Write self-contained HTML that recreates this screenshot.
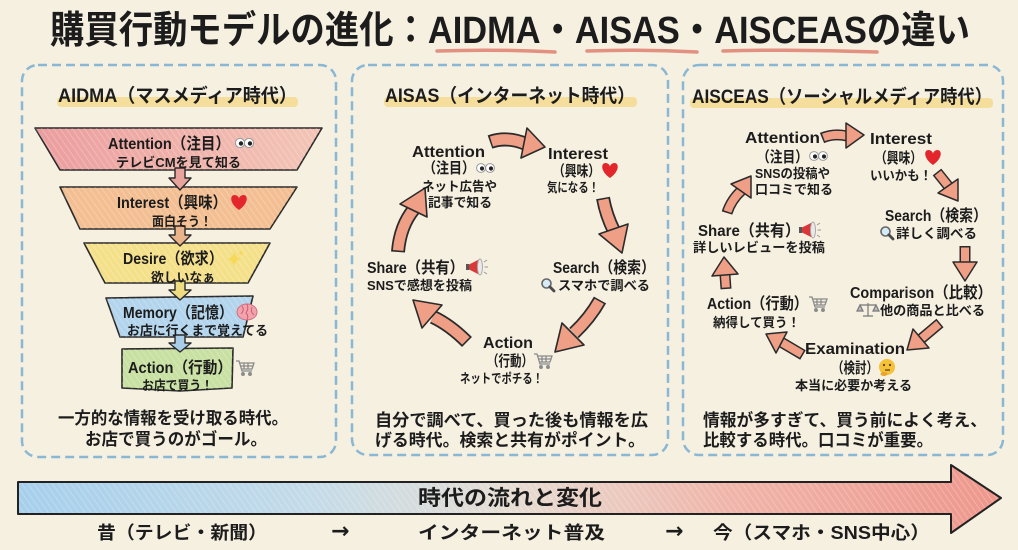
<!DOCTYPE html>
<html><head><meta charset="utf-8">
<style>
html,body{margin:0;padding:0;background:#f6f0e1;}
svg{display:block}
text{font-family:"Liberation Sans","Noto Sans CJK JP",sans-serif;font-weight:bold;fill:#1c1c1c;}
text.arr{font-family:"DejaVu Sans",sans-serif;}
</style></head><body>
<svg width="1018" height="550" viewBox="0 0 1018 550" xmlns="http://www.w3.org/2000/svg">
<defs>
<pattern id="hatch" width="5" height="5" patternUnits="userSpaceOnUse" patternTransform="rotate(-35)">
<line x1="0" y1="0" x2="0" y2="5" stroke="#ffffff" stroke-opacity=".28" stroke-width="1.6"/>
</pattern>
<linearGradient id="gAtt" x1="0" x2="1" y1="0" y2="0"><stop offset="0" stop-color="#eb9d9e"/><stop offset="1" stop-color="#f3c5b6"/></linearGradient>
<linearGradient id="gTime" x1="0" x2="1" y1="0" y2="0">
<stop offset="0" stop-color="#a6cfec"/><stop offset="0.3" stop-color="#c4dbe8"/><stop offset="0.5" stop-color="#e6ddd3"/><stop offset="0.72" stop-color="#f0b5aa"/><stop offset="1" stop-color="#ee978c"/>
</linearGradient>
</defs>

<rect width="1018" height="550" fill="#f6f0e1"/>

<!-- Title -->
<text x="50" y="43" font-size="38" font-weight="900" textLength="920" lengthAdjust="spacingAndGlyphs">購買行動モデルの進化：AIDMA・AISAS・AISCEASの違い</text>
<g stroke="#e2907f" stroke-width="3.5" stroke-linecap="round" fill="none">
<path d="M437,51 Q496,49 555,52"/>
<path d="M587,51 Q642,49 697,52"/>
<path d="M723,51 Q800,49 877,52"/>
</g>

<!-- Panels -->
<g fill="none" stroke="#8ab8d4" stroke-width="2.5" stroke-dasharray="9 5">
<rect x="22" y="65" width="314" height="392" rx="16"/>
<rect x="352" y="65" width="316" height="390" rx="16"/>
<rect x="683" y="65" width="320" height="390" rx="16"/>
</g>

<!-- Headers -->
<rect x="57" y="97" width="241" height="10" rx="4" fill="#f4d98f" opacity=".85"/>
<rect x="384" y="97" width="253" height="10" rx="4" fill="#f4d98f" opacity=".85"/>
<rect x="690" y="98" width="303" height="10" rx="4" fill="#f4d98f" opacity=".85"/>
<text x="58" y="102" font-size="19" textLength="239" lengthAdjust="spacingAndGlyphs">AIDMA（マスメディア時代）</text>
<text x="385" y="102" font-size="19" textLength="250" lengthAdjust="spacingAndGlyphs">AISAS（インターネット時代）</text>
<text x="692" y="103" font-size="19" textLength="300" lengthAdjust="spacingAndGlyphs">AISCEAS（ソーシャルメディア時代）</text>

<!-- Left funnel -->
<g stroke="#2a2a2a" stroke-width="1.6" stroke-linejoin="round">
<polygon points="35,128 322,128 297,170 60,170" fill="url(#gAtt)"/>
<polygon points="60,187 297,187 270,229 80,229" fill="#f3bf92"/>
<polygon points="84,243 270,243 248,283 105,283" fill="#f5e08a"/>
<polygon points="106,298 253,296 243,337 120,337" fill="#b2d4ec"/>
<polygon points="122,349 233,348 232,388 180,391 122,388" fill="#c8e0a2"/>
</g>
<g fill="url(#hatch)">
<polygon points="35,128 322,128 297,170 60,170"/>
<polygon points="60,187 297,187 270,229 80,229"/>
<polygon points="84,243 270,243 248,283 105,283"/>
<polygon points="106,298 253,296 243,337 120,337"/>
<polygon points="122,349 233,348 232,388 180,391 122,388"/>
</g>
<!-- funnel down arrows -->
<g stroke="#2a2a2a" stroke-width="1.4" stroke-linejoin="round">
<path d="M175,168 H185 V178 H191 L180,190 L169,178 H175 Z" fill="#e8a49c"/>
<path d="M175,226 H185 V235 H191 L180,246 L169,235 H175 Z" fill="#eab48a"/>
<path d="M175,281 H185 V290 H191 L180,300 L169,290 H175 Z" fill="#eedd80"/>
<path d="M175,335 H185 V343 H191 L180,352 L169,343 H175 Z" fill="#a9cde6"/>
</g>

<text x="108" y="149" font-size="16" textLength="122" lengthAdjust="spacingAndGlyphs">Attention（注目）</text>
<g transform="translate(235,143)"><circle cx="5" r="4.6" fill="#fff" stroke="#999"/><circle cx="14" r="4.6" fill="#fff" stroke="#999"/><circle cx="6" cy=".5" r="2.2" fill="#222"/><circle cx="15" cy=".5" r="2.2" fill="#222"/></g>
<text x="116" y="167" font-size="13" textLength="125" lengthAdjust="spacingAndGlyphs">テレビCMを見て知る</text>

<text x="117" y="208" font-size="16" textLength="110" lengthAdjust="spacingAndGlyphs">Interest（興味）</text>
<path transform="translate(239,203)" d="M0,7 C-10,0 -9,-8 -4.5,-8 C-2,-8 0,-6 0,-4 C0,-6 2,-8 4.5,-8 C9,-8 10,0 0,7Z" fill="#e3262b"/>
<text x="152" y="226" font-size="13" textLength="60" lengthAdjust="spacingAndGlyphs">面白そう！</text>

<text x="123" y="264" font-size="16" textLength="100" lengthAdjust="spacingAndGlyphs">Desire（欲求）</text>
<g transform="translate(234,259)" fill="#f7d95a"><path d="M0,-8 Q1,-1 7,0 Q1,1 0,8 Q-1,1 -7,0 Q-1,-1 0,-8Z"/><path d="M7,-9 Q7.5,-6.5 10,-6 Q7.5,-5.5 7,-3 Q6.5,-5.5 4,-6 Q6.5,-6.5 7,-9Z"/></g>
<text x="151" y="282" font-size="13" textLength="64" lengthAdjust="spacingAndGlyphs">欲しいなぁ</text>

<text x="123" y="318" font-size="16" textLength="110" lengthAdjust="spacingAndGlyphs">Memory（記憶）</text>
<g transform="translate(247,312)"><ellipse rx="10" ry="8" fill="#f2a3ad" stroke="#d0707f"/><path d="M-5,-6 Q-2,-2 -6,2 M0,-8 Q2,-3 -1,1 Q2,4 0,8 M5,-5 Q3,0 7,3" stroke="#c86070" fill="none" stroke-width="1"/></g>
<text x="127" y="335" font-size="13" textLength="141" lengthAdjust="spacingAndGlyphs">お店に行くまで覚えてる</text>

<text x="128" y="373" font-size="16" textLength="104" lengthAdjust="spacingAndGlyphs">Action（行動）</text>
<g transform="translate(245,367)" stroke="#8a8a8a" fill="none" stroke-width="1.3"><path d="M-9,-6 H-6 L-3,4 H7"/><path d="M-5.5,-4 H9 L7,2 H-3.5"/><path d="M-1,-4 V2 M3,-4 V2 M-4.5,-1 H8"/><circle cx="-2" cy="7" r="1.3" fill="#8a8a8a"/><circle cx="5" cy="7" r="1.3" fill="#8a8a8a"/></g>
<text x="142" y="390" font-size="13" textLength="71" lengthAdjust="spacingAndGlyphs">お店で買う！</text>

<text x="58" y="424" font-size="17" textLength="230" lengthAdjust="spacingAndGlyphs">一方的な情報を受け取る時代。</text>
<text x="85" y="445" font-size="17" textLength="182" lengthAdjust="spacingAndGlyphs">お店で買うのがゴール。</text>

<!-- Middle cycle arrows -->
<g fill="none" stroke-linecap="butt">
<g stroke="#2b2b2b" stroke-width="14">
<path d="M490,142 Q507,136 526,144"/>
<path d="M603,198 Q606,215 614,231"/>
<path d="M600,300 Q590,318 574,333"/>
<path d="M467,342 Q450,325 433,317"/>
<path d="M398,252 Q400,226 414,209"/>
</g>
<g stroke="#ee9f85" stroke-width="10.5" stroke-dasharray="0 1.5 1000 0">
<path d="M490,142 Q507,136 526,144"/>
<path d="M603,198 Q606,215 614,231"/>
<path d="M600,300 Q590,318 574,333"/>
<path d="M467,342 Q450,325 433,317"/>
<path d="M398,252 Q400,226 414,209"/>
</g>
</g>
<g fill="#ee9f85" stroke="#2b2b2b" stroke-width="1.6" stroke-linejoin="round">
<polygon points="527,128 545,147 521,158"/>
<polygon points="599,234 628,224 622,253"/>
<polygon points="562,323 584,345 555,352"/>
<polygon points="442,305 422,328 413,300"/>
<polygon points="427,217 400,204 425,188"/>
</g>

<text x="412" y="157" font-size="16" textLength="73" lengthAdjust="spacingAndGlyphs">Attention</text>
<text x="423" y="173" font-size="15" textLength="52" lengthAdjust="spacingAndGlyphs">（注目）</text>
<g transform="translate(476,168)"><circle cx="5" r="4.4" fill="#fff" stroke="#999"/><circle cx="14" r="4.4" fill="#fff" stroke="#999"/><circle cx="6" cy=".5" r="2.1" fill="#222"/><circle cx="15" cy=".5" r="2.1" fill="#222"/></g>
<text x="422" y="191" font-size="13" textLength="75" lengthAdjust="spacingAndGlyphs">ネット広告や</text>
<text x="428" y="207" font-size="13" textLength="64" lengthAdjust="spacingAndGlyphs">記事で知る</text>

<text x="548" y="159" font-size="16" textLength="60" lengthAdjust="spacingAndGlyphs">Interest</text>
<text x="553" y="176" font-size="15" textLength="47" lengthAdjust="spacingAndGlyphs">（興味）</text>
<path transform="translate(610,171)" d="M0,7 C-10,0 -9,-8 -4.5,-8 C-2,-8 0,-6 0,-4 C0,-6 2,-8 4.5,-8 C9,-8 10,0 0,7Z" fill="#e3262b"/>
<text x="547" y="192" font-size="13" textLength="52" lengthAdjust="spacingAndGlyphs">気になる！</text>

<text x="367" y="273" font-size="16" textLength="97" lengthAdjust="spacingAndGlyphs">Share（共有）</text>
<g transform="translate(477,267)"><path d="M-9,-2 L3,-8 L3,8 L-9,2Z" fill="#d83838"/><ellipse cx="3" cy="0" rx="2.5" ry="8" fill="#e9e9e9" stroke="#aaa"/><rect x="-11" y="-3" width="3" height="6" fill="#555"/><path d="M7,-5 L10,-7 M7.5,0 H11 M7,5 L10,7" stroke="#999" stroke-width="1"/></g>
<text x="367" y="290" font-size="13" textLength="105" lengthAdjust="spacingAndGlyphs">SNSで感想を投稿</text>

<text x="553" y="273" font-size="16" textLength="102" lengthAdjust="spacingAndGlyphs">Search（検索）</text>
<g transform="translate(548,285)"><circle cx="-1.5" cy="-1.5" r="4.5" fill="#d5ecf8" stroke="#666" stroke-width="1.6"/><path d="M1.8,1.8 L6,6" stroke="#4a4a4a" stroke-width="2.8" stroke-linecap="round"/></g>
<text x="558" y="290" font-size="13" textLength="92" lengthAdjust="spacingAndGlyphs">スマホで調べる</text>

<text x="483" y="348" font-size="16" textLength="50" lengthAdjust="spacingAndGlyphs">Action</text>
<text x="487" y="366" font-size="15" textLength="46" lengthAdjust="spacingAndGlyphs">（行動）</text>
<g transform="translate(543,360)" stroke="#8a8a8a" fill="none" stroke-width="1.3"><path d="M-9,-6 H-6 L-3,4 H7"/><path d="M-5.5,-4 H9 L7,2 H-3.5"/><path d="M-1,-4 V2 M3,-4 V2 M-4.5,-1 H8"/><circle cx="-2" cy="7" r="1.3" fill="#8a8a8a"/><circle cx="5" cy="7" r="1.3" fill="#8a8a8a"/></g>
<text x="460" y="383" font-size="13" textLength="83" lengthAdjust="spacingAndGlyphs">ネットでポチる！</text>

<text x="375" y="426" font-size="17" textLength="273" lengthAdjust="spacingAndGlyphs">自分で調べて、買った後も情報を広</text>
<text x="375" y="446" font-size="17" textLength="270" lengthAdjust="spacingAndGlyphs">げる時代。検索と共有がポイント。</text>

<!-- Right cycle arrows -->
<g fill="none">
<g stroke="#2b2b2b" stroke-width="11">
<path d="M822,138 Q834,133 847,136"/>
<path d="M937,172 L949,187"/>
<path d="M965,246 L965,263"/>
<path d="M940,323 L921,339"/>
<path d="M803,355 L781,342"/>
<path d="M726,289 L725,275"/>
<path d="M727,213 Q731,200 742,190"/>
</g>
<g stroke="#ee9f85" stroke-width="8" stroke-dasharray="0 1.5 1000 0">
<path d="M822,138 Q834,133 847,136"/>
<path d="M937,172 L949,187"/>
<path d="M965,246 L965,263"/>
<path d="M940,323 L921,339"/>
<path d="M803,355 L781,342"/>
<path d="M726,289 L725,275"/>
<path d="M727,213 Q731,200 742,190"/>
</g>
</g>
<g fill="#ee9f85" stroke="#2b2b2b" stroke-width="1.5" stroke-linejoin="round">
<polygon points="846,123 864,135 846,148"/>
<polygon points="958,179 938,193 958,201"/>
<polygon points="953,262 977,262 965,281"/>
<polygon points="913,329 929,348 907,350"/>
<polygon points="787,332 776,353 766,334"/>
<polygon points="712,276 738,274 724,257"/>
<polygon points="751,198 731,184 751,176"/>
</g>

<text x="745" y="143" font-size="16" textLength="75" lengthAdjust="spacingAndGlyphs">Attention</text>
<text x="757" y="162" font-size="15" textLength="51" lengthAdjust="spacingAndGlyphs">（注目）</text>
<g transform="translate(809,156)"><circle cx="5" r="4.4" fill="#fff" stroke="#999"/><circle cx="14" r="4.4" fill="#fff" stroke="#999"/><circle cx="6" cy=".5" r="2.1" fill="#222"/><circle cx="15" cy=".5" r="2.1" fill="#222"/></g>
<text x="755" y="178" font-size="13" textLength="75" lengthAdjust="spacingAndGlyphs">SNSの投稿や</text>
<text x="755" y="194" font-size="13" textLength="78" lengthAdjust="spacingAndGlyphs">口コミで知る</text>

<text x="870" y="144" font-size="16" textLength="62" lengthAdjust="spacingAndGlyphs">Interest</text>
<text x="875" y="163" font-size="15" textLength="47" lengthAdjust="spacingAndGlyphs">（興味）</text>
<path transform="translate(933,158)" d="M0,7 C-10,0 -9,-8 -4.5,-8 C-2,-8 0,-6 0,-4 C0,-6 2,-8 4.5,-8 C9,-8 10,0 0,7Z" fill="#e3262b"/>
<text x="870" y="180" font-size="13" textLength="62" lengthAdjust="spacingAndGlyphs">いいかも！</text>

<text x="698" y="236" font-size="16" textLength="102" lengthAdjust="spacingAndGlyphs">Share（共有）</text>
<g transform="translate(810,230)"><path d="M-9,-2 L3,-8 L3,8 L-9,2Z" fill="#d83838"/><ellipse cx="3" cy="0" rx="2.5" ry="8" fill="#e9e9e9" stroke="#aaa"/><rect x="-11" y="-3" width="3" height="6" fill="#555"/><path d="M7,-5 L10,-7 M7.5,0 H11 M7,5 L10,7" stroke="#999" stroke-width="1"/></g>
<text x="693" y="252" font-size="13" textLength="132" lengthAdjust="spacingAndGlyphs">詳しいレビューを投稿</text>

<text x="885" y="221" font-size="16" textLength="102" lengthAdjust="spacingAndGlyphs">Search（検索）</text>
<g transform="translate(887,233)"><circle cx="-1.5" cy="-1.5" r="4.5" fill="#d5ecf8" stroke="#666" stroke-width="1.6"/><path d="M1.8,1.8 L6,6" stroke="#4a4a4a" stroke-width="2.8" stroke-linecap="round"/></g>
<text x="896" y="238" font-size="13" textLength="81" lengthAdjust="spacingAndGlyphs">詳しく調べる</text>

<text x="850" y="298" font-size="16" textLength="142" lengthAdjust="spacingAndGlyphs">Comparison（比較）</text>
<g transform="translate(868,310)" stroke="#777" stroke-width="1.2" fill="none"><path d="M0,-7 V6 M-5,6 H5 M-8,-5 H8"/><path d="M-8,-5 L-11,1 H-5 Z M8,-5 L5,1 H11 Z" fill="#bbb"/></g>
<text x="880" y="315" font-size="13" textLength="105" lengthAdjust="spacingAndGlyphs">他の商品と比べる</text>

<text x="707" y="309" font-size="16" textLength="101" lengthAdjust="spacingAndGlyphs">Action（行動）</text>
<g transform="translate(818,303)" stroke="#8a8a8a" fill="none" stroke-width="1.3"><path d="M-9,-6 H-6 L-3,4 H7"/><path d="M-5.5,-4 H9 L7,2 H-3.5"/><path d="M-1,-4 V2 M3,-4 V2 M-4.5,-1 H8"/><circle cx="-2" cy="7" r="1.3" fill="#8a8a8a"/><circle cx="5" cy="7" r="1.3" fill="#8a8a8a"/></g>
<text x="713" y="327" font-size="13" textLength="87" lengthAdjust="spacingAndGlyphs">納得して買う！</text>

<text x="805" y="354" font-size="16" textLength="100" lengthAdjust="spacingAndGlyphs">Examination</text>
<text x="832" y="373" font-size="15" textLength="46" lengthAdjust="spacingAndGlyphs">（検討）</text>
<g transform="translate(887,367)"><circle r="8" fill="#f5c136"/><circle cx="-3" cy="-2" r="1.1" fill="#5a3a1a"/><circle cx="3" cy="-2" r="1.1" fill="#5a3a1a"/><path d="M-2,3 H3" stroke="#5a3a1a" stroke-width="1.2"/><ellipse cx="-3" cy="7" rx="3.5" ry="2" fill="#e8a52a"/></g>
<text x="795" y="390" font-size="13" textLength="117" lengthAdjust="spacingAndGlyphs">本当に必要か考える</text>

<text x="703" y="426" font-size="17" textLength="284" lengthAdjust="spacingAndGlyphs">情報が多すぎて、買う前によく考え、</text>
<text x="703" y="446" font-size="17" textLength="230" lengthAdjust="spacingAndGlyphs">比較する時代。口コミが重要。</text>

<!-- Bottom time arrow -->
<path d="M18,482 H951 V465 L1001,498 L951,533 V514 H18 Z" fill="url(#gTime)"/>
<path d="M18,482 H951 V465 L1001,498 L951,533 V514 H18 Z" fill="url(#hatch)" stroke="#222" stroke-width="2" stroke-linejoin="round"/>
<text x="418" y="505" font-size="21" textLength="184" lengthAdjust="spacingAndGlyphs">時代の流れと変化</text>

<text x="97" y="539" font-size="18" textLength="170" lengthAdjust="spacingAndGlyphs">昔（テレビ・新聞）</text>
<text class="arr" x="331" y="538" font-size="22">→</text>
<text x="418" y="539" font-size="18" textLength="187" lengthAdjust="spacingAndGlyphs">インターネット普及</text>
<text class="arr" x="665" y="538" font-size="22">→</text>
<text x="713" y="539" font-size="18" textLength="217" lengthAdjust="spacingAndGlyphs">今（スマホ・SNS中心）</text>
</svg>
</body></html>
